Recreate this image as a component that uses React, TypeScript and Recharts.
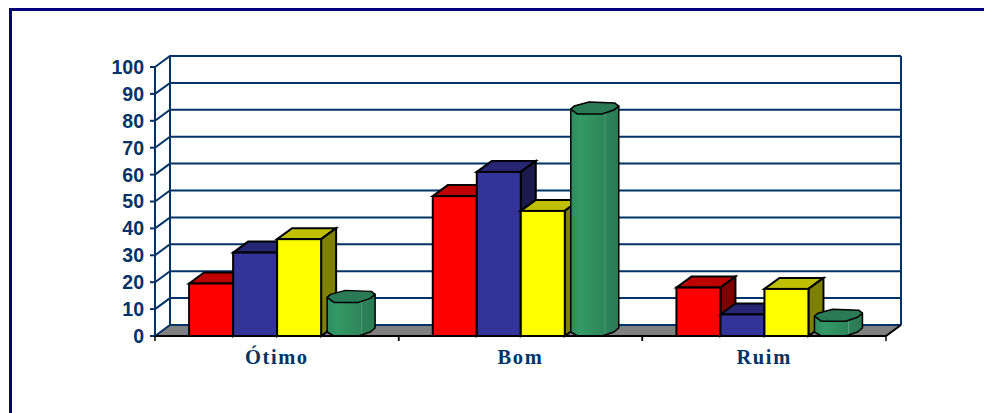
import { BarChart, Bar, XAxis, YAxis, CartesianGrid } from 'recharts';

const categories = ['Ótimo', 'Bom', 'Ruim'];
const serieA = [19.5, 52, 18];
const serieB = [31, 61, 8];
const serieC = [36, 46.5, 17.5];
const serieD = [12.5, 82.5, 5.5];
const yTicks = [0, 10, 20, 30, 40, 50, 60, 70, 80, 90, 100];

const data = categories.map((name, i) => ({
  name,
  a: serieA[i],
  b: serieB[i],
  c: serieC[i],
  d: serieD[i],
}));

const NAVY = '#003366';
const DX = 15;
const DY = 11;
const PLOT_LEFT = 155;
const PLOT_RIGHT = 886;
const PLOT_TOP = 67;
const PLOT_BOTTOM = 336;

function gridLine(props: any) {
  const { x1, x2, y1 } = props;
  const isFloor = Math.abs(y1 - PLOT_BOTTOM) < 1;
  return (
    <g key={`line-${y1}`}>
      {isFloor && (
        <polygon
          points={`${x1},${y1} ${x1 + DX},${y1 - DY} ${x2 + DX},${y1 - DY} ${x2},${y1}`}
          fill="#808080"
          stroke="none"
        />
      )}
      <polyline
        points={`${x1},${y1} ${x1 + DX},${y1 - DY} ${x2 + DX},${y1 - DY}`}
        fill="none"
        stroke={NAVY}
        strokeWidth={2}
      />
      {isFloor && (
        <>
          <line x1={x1 + DX} x2={x1 + DX} y1={y1 - DY} y2={PLOT_TOP - DY} stroke={NAVY} strokeWidth={2} />
          <line x1={x2 + DX} x2={x2 + DX} y1={y1 - DY} y2={PLOT_TOP - DY} stroke={NAVY} strokeWidth={2} />
          <line x1={x2} x2={x2 + DX} y1={y1} y2={y1 - DY} stroke="#000" strokeWidth={2} />
        </>
      )}
    </g>
  );
}

function box(front: string, top: string, side: string) {
  return (props: any) => {
    const { x, y, width, height } = props;
    const r = x + width;
    const b = y + height;
    return (
      <g stroke="#000" strokeWidth={2} strokeLinejoin="miter">
        <polygon points={`${x},${y} ${x + DX},${y - DY} ${r + DX},${y - DY} ${r},${y}`} fill={top} />
        <polygon points={`${r},${y} ${r + DX},${y - DY} ${r + DX},${b - DY} ${r},${b}`} fill={side} />
        <rect x={x} y={y} width={width} height={height} fill={front} />
      </g>
    );
  };
}

function cylinder(props: any) {
  const { x, y, width, height } = props;
  const l = x + 6;
  const r = x + width + 10;
  const w = r - l;
  const b = y + height;
  const px = (f: number) => l + f * w;
  const id = `cyl-${Math.round(x)}`;
  return (
    <g stroke="#000" strokeWidth={1.5} strokeLinejoin="round">
      <defs>
        <linearGradient id={id} x1="0" x2="1" y1="0" y2="0">
          <stop offset="0" stopColor="#2f8a5e" />
          <stop offset="0.2" stopColor="#339966" />
          <stop offset="0.7" stopColor="#2e8559" />
          <stop offset="0.71" stopColor="#5aa583" />
          <stop offset="0.73" stopColor="#2d8258" />
          <stop offset="1" stopColor="#2a7a55" />
        </linearGradient>
      </defs>
      <polygon
        points={`${px(0)},${y - 5} ${px(1)},${y - 8} ${px(1)},${b - 8} ${px(0.9)},${b - 4} ${px(0.65)},${b} ${px(0.14)},${b} ${px(0)},${b - 4}`}
        fill={`url(#${id})`}
      />
      <polygon
        points={`${px(0)},${y - 5} ${px(0.07)},${y - 8} ${px(0.38)},${y - 12} ${px(0.92)},${y - 11} ${px(1)},${y - 8} ${px(0.9)},${y - 4} ${px(0.65)},${y} ${px(0.14)},${y}`}
        fill="#2a7a55"
      />
    </g>
  );
}

function categoryTick(props: any) {
  const { x, payload } = props;
  const half = (PLOT_RIGHT - PLOT_LEFT) / categories.length / 2;
  return (
    <g>
      <line x1={x - half} x2={x - half} y1={PLOT_BOTTOM} y2={PLOT_BOTTOM + 5} stroke="#000" strokeWidth={1.5} />
      <line x1={x + half} x2={x + half} y1={PLOT_BOTTOM} y2={PLOT_BOTTOM + 5} stroke="#000" strokeWidth={1.5} />
      <text
        x={x}
        y={PLOT_BOTTOM + 28}
        textAnchor="middle"
        fill={NAVY}
        fontFamily="'Liberation Serif', serif"
        fontWeight="bold"
        fontSize={20.5}
        letterSpacing={1.6}
      >
        {payload.value}
      </text>
    </g>
  );
}

export default function App() {
  return (
    <div style={{ position: 'absolute', left: 0, top: 0, width: 984, height: 413, overflow: 'hidden', background: '#fff' }}>
      <div
        style={{
          position: 'absolute',
          left: 9,
          top: 8,
          right: 0,
          bottom: 0,
          borderTop: '3px solid #000080',
          borderLeft: '3px solid #000080',
        }}
      />
      <div style={{ position: 'absolute', left: 0, top: 0 }}>
        <BarChart
          width={984}
          height={413}
          data={data}
          margin={{ top: PLOT_TOP, right: 984 - PLOT_RIGHT, bottom: 47, left: PLOT_LEFT - 60 }}
          barCategoryGap="14%"
          barGap={0}
        >
          <CartesianGrid horizontal={gridLine} vertical={false} />
          <XAxis
            dataKey="name"
            height={30}
            axisLine={{ stroke: '#000', strokeWidth: 2 }}
            tickLine={false}
            tick={categoryTick}
            interval={0}
          />
          <YAxis
            width={60}
            domain={[0, 100]}
            ticks={yTicks}
            interval={0}
            axisLine={{ stroke: NAVY, strokeWidth: 2 }}
            tickLine={{ stroke: NAVY, strokeWidth: 2 }}
            tickSize={5}
            tickMargin={6}
            tick={{ fill: NAVY, fontFamily: "'Liberation Sans', Arial, sans-serif", fontWeight: 'bold', fontSize: 19.5 }}
          />
          <Bar dataKey="a" isAnimationActive={false} shape={box('#ff0000', '#bf0000', '#800000')} />
          <Bar dataKey="b" isAnimationActive={false} shape={box('#333399', '#262673', '#1a1a4d')} />
          <Bar dataKey="c" isAnimationActive={false} shape={box('#ffff00', '#bfbf00', '#808000')} />
          <Bar dataKey="d" isAnimationActive={false} shape={cylinder} />
        </BarChart>
      </div>
    </div>
  );
}
